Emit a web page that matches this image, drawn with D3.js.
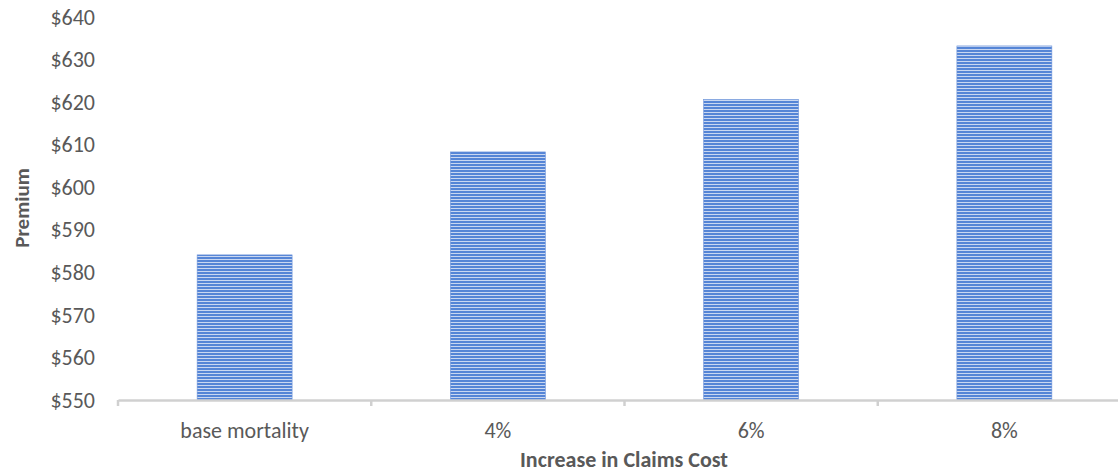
<!DOCTYPE html>
<html>
<head>
<meta charset="utf-8">
<script src="https://cdn.jsdelivr.net/npm/d3@7"></script>
<style>
  body { margin: 0; background: #fff; }
  svg { display: block; font-family: Calibri, Carlito, Lato, sans-serif; }
</style>
</head>
<body>
<svg width="1118" height="474"></svg>
<script>
// chart data
const categories = ["base mortality", "4%", "6%", "8%"];
const premiums = [584.1, 608.3, 620.6, 633.2];
const yTicks = [550, 560, 570, 580, 590, 600, 610, 620, 630, 640];

const margin = {top: 17, left: 118},
      plotW = 1013,
      plotH = 383;

const svg = d3.select("svg");

// striped fill for the bars
const defs = svg.append("defs");
const pat = defs.append("pattern")
    .attr("id", "stripes")
    .attr("patternUnits", "userSpaceOnUse")
    .attr("width", 8).attr("height", 3);
pat.append("rect").attr("width", 8).attr("height", 3).attr("fill", "#5585d6");
pat.append("rect").attr("y", 2).attr("width", 8).attr("height", 1).attr("fill", "#c9d7f1");

const g = svg.append("g").attr("transform", `translate(${margin.left},${margin.top})`);

const x = d3.scaleBand().domain(categories).range([0, plotW]).paddingInner(0.625).paddingOuter(0.3125);
const y = d3.scaleLinear().domain([550, 640]).range([plotH, 0]);

// y labels
g.selectAll(".ylab")
  .data(yTicks)
  .enter().append("text")
    .attr("x", -23)
    .attr("y", d => y(d))
    .attr("dy", "0.35em")
    .attr("text-anchor", "end")
    .attr("font-size", 22)
    .attr("fill", "#595959")
    .text(d => "$" + d);

// bars
g.selectAll(".bar")
  .data(premiums)
  .enter().append("rect")
    .attr("x", (d, i) => x(categories[i]))
    .attr("y", d => y(d))
    .attr("width", x.bandwidth())
    .attr("height", d => plotH - y(d))
    .attr("fill", "url(#stripes)")
    .attr("stroke", "#6f95da")
    .attr("stroke-width", 0.6);

// x axis
const xAxis = g.append("g")
    .attr("transform", `translate(0,${plotH})`)
    .call(d3.axisBottom(x).tickSize(0).tickPadding(22))
    .attr("font-family", null)
    .attr("font-size", null);
xAxis.select(".domain").attr("stroke", "#d0d0d0").attr("stroke-width", 2.5);
xAxis.selectAll("text").attr("font-size", 22).attr("fill", "#595959");

// category divider ticks
g.selectAll(".divtick")
  .data(d3.range(categories.length + 1))
  .enter().append("line")
    .attr("x1", d => d * plotW / categories.length)
    .attr("x2", d => d * plotW / categories.length)
    .attr("y1", plotH)
    .attr("y2", plotH + 6)
    .attr("stroke", "#d0d0d0")
    .attr("stroke-width", 2.5);

// axis titles
svg.append("text")
    .attr("transform", "translate(29,208) rotate(-90)")
    .attr("text-anchor", "middle")
    .attr("font-size", 21)
    .attr("font-weight", "bold")
    .attr("fill", "#595959")
    .text("Premium");

svg.append("text")
    .attr("x", 624)
    .attr("y", 467)
    .attr("text-anchor", "middle")
    .attr("font-size", 22)
    .attr("font-weight", "bold")
    .attr("fill", "#595959")
    .text("Increase in Claims Cost");
</script>
</body>
</html>
